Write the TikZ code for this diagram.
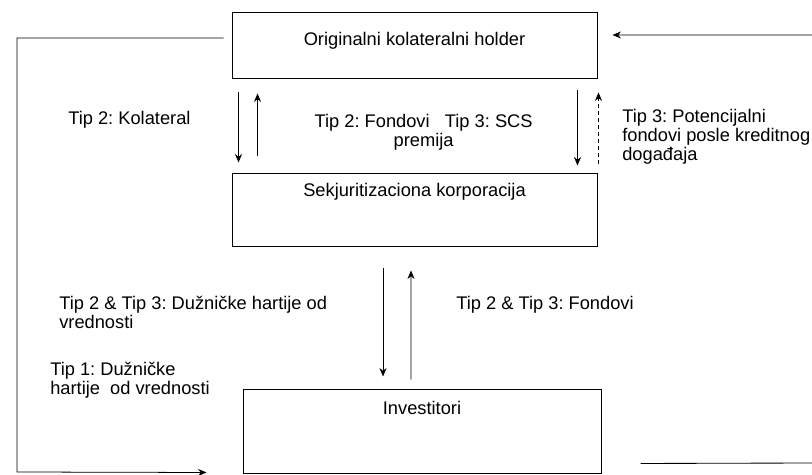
\documentclass[tikz,border=0pt]{standalone}
\usepackage{fontspec}
\setmainfont{Liberation Sans}
\usetikzlibrary{arrows.meta}
\begin{document}
\begin{tikzpicture}[box/.style={shape=rectangle, draw=black, line width=0.7pt, inner sep=0pt}, note/.style={inner sep=0pt, align=left, font=\fontsize{13}{13.5}\selectfont\frenchspacing}, flow/.style={draw=black, line width=0.55pt, -{Stealth[length=6pt, width=5pt]}}, wire/.style={draw=black, line width=0.6pt}]
\useasboundingbox (0,0) rectangle (20.3,11.875);
\node[box, minimum width=9.125cm, minimum height=1.65cm, label={[note, anchor=north, yshift=-0.49cm]north:Originalni kolateralni holder}] (holder) at (10.3625,10.725) {};
\node[box, minimum width=9.125cm, minimum height=1.8cm, label={[note, anchor=north, yshift=-0.24cm]north:Sekjuritizaciona korporacija}] (korp) at (10.3625,6.625) {};
\node[box, minimum width=8.95cm, minimum height=2.1cm, label={[note, anchor=north, yshift=-0.31cm]north:Investitori}] (inv) at (10.55,1.1) {};
\coordinate (corner) at (0.425,0.075);
\coordinate (rtop) at (20.3,11.0);
\coordinate (rbot) at (20.3,0.3);
\node[note, anchor=west] (kol) at (1.7,8.875) {Tip 2: Kolateral};
\node[note, align=center] (fond) at (10.59,8.575) {Tip 2: Fondovi~~~Tip 3: SCS\\premija};
\node[note, anchor=west] (pot) at (15.55,8.45) {Tip 3: Potencijalni\\fondovi posle kreditnog\\događaja};
\node[note, anchor=west] (dug) at (1.475,4.075) {Tip 2 \& Tip 3: Dužničke hartije od\\vrednosti};
\node[note, anchor=west] (fondinv) at (11.4,4.25) {Tip 2 \& Tip 3: Fondovi};
\node[note, anchor=west] (dugdir) at (1.25,2.375) {Tip 1: Dužničke\\hartije~~od vrednosti};
\draw [flow] ([xshift=0.175cm, yshift=-0.325cm]holder.south west) -- ([xshift=0.175cm, yshift=0.275cm]korp.north west);
\draw [flow] ([xshift=0.65cm, yshift=0.425cm]korp.north west) -- ([xshift=0.65cm, yshift=-0.35cm]holder.south west);
\draw [flow] ([xshift=-0.5cm, yshift=-0.275cm]holder.south east) -- ([xshift=-0.5cm, yshift=0.2cm]korp.north east);
\draw [flow, densely dashed] ([xshift=0.025cm, yshift=0.225cm]korp.north east) -- ([xshift=0.025cm, yshift=-0.325cm]holder.south east);
\draw [flow] ([xshift=-0.7875cm, yshift=-0.55cm]korp.south) -- ([xshift=-0.975cm, yshift=0.3cm]inv.north);
\draw [flow] ([xshift=-0.275cm, yshift=0.225cm]inv.north) -- ([xshift=-0.0875cm, yshift=-0.6cm]korp.south);
\draw [flow] ([xshift=-0.2cm, yshift=0.2cm]holder.west) -| (corner) -- ([xshift=-0.9cm, yshift=0.025cm]inv.south west);
\draw [flow] (rtop) -- ([xshift=0.375cm, yshift=0.275cm]holder.east);
\draw [wire] (rbot) -- ([xshift=0.975cm, yshift=0.25cm]inv.south east);
\end{tikzpicture}
\end{document}
